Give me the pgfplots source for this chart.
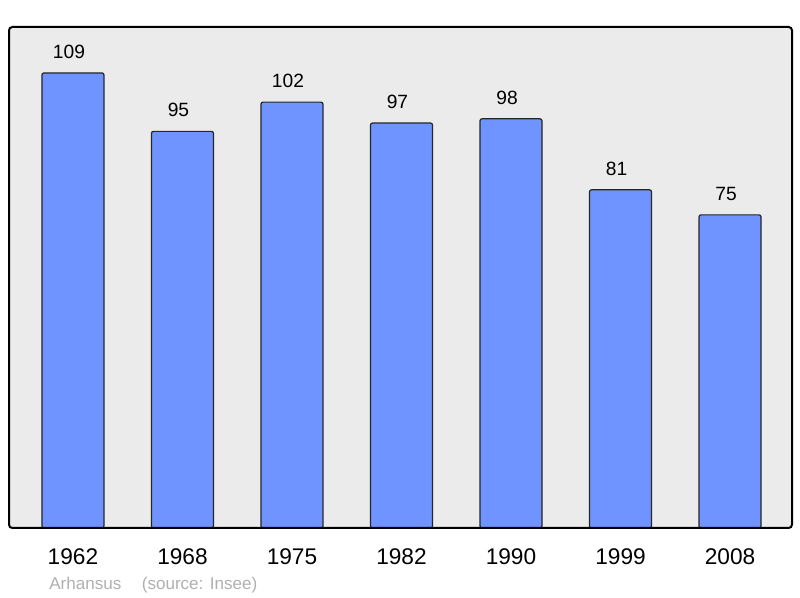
\documentclass[border=0pt]{standalone}
\usepackage{pgfplots}
\pgfplotsset{compat=1.18}
\usepackage{fontspec}
\setmainfont{Liberation Sans}
\definecolor{barfill}{HTML}{7094FF}
\definecolor{panel}{HTML}{EBEBEB}
\definecolor{foot}{HTML}{B0B0B0}
\begin{document}
\begin{tikzpicture}
% page is 800 x 598 px at 0.75pt per px
\path[use as bounding box] (0,0) rectangle (600pt,448.5pt);
\begin{axis}[at={(6.75pt,52.5pt)}, anchor=south west,
    scale only axis, width=587.25pt, height=375.75pt,
    xmin=-0.584, xmax=6.566, ymin=0, ymax=120,
    ybar, bar width=46.5pt,
    axis background/.style={fill=panel},
    axis line style={draw=none},
    ytick=\empty, xtick={0,...,6},
    xticklabels={1962,1968,1975,1982,1990,1999,2008},
    major tick length=0pt,
    xticklabel style={font=\fontsize{17}{17}\selectfont, anchor=base, yshift=-27.5pt},
    nodes near coords,
    every node near coord/.append style={font=\fontsize{14.4}{14.4}\selectfont, anchor=base,
      yshift=11pt, xshift=-3pt, /pgf/number format/assume math mode=true},
    clip=false]
  \addplot[fill=barfill, draw=black!85, line width=0.9pt, rounded corners=1.5pt] coordinates {
    (0,109) (1,95) (2,102) (3,97) (4,98) (5,81) (6,75)};
  \draw[line width=1.5pt, rounded corners=2.5pt] (rel axis cs:0,0) rectangle (rel axis cs:1,1);
\end{axis}
\node[anchor=base west, inner sep=0pt, text=foot, font=\fontsize{12.8}{12.8}\selectfont] at (36.75pt,6pt) {Arhansus\hspace{1.2em}(source: Insee)};
\end{tikzpicture}
\end{document}
